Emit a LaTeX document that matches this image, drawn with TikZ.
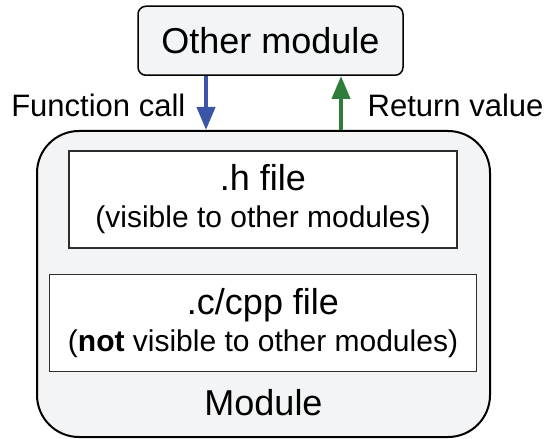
\documentclass[tikz,border=0pt]{standalone}
\usepackage{fontspec}
\setmainfont{Liberation Sans}
\usetikzlibrary{positioning,arrows.meta}
\definecolor{boxGray}{RGB}{243,244,246}
\definecolor{callBlue}{RGB}{59,84,168}
\definecolor{returnGreen}{RGB}{46,125,58}
\definecolor{lineGray}{RGB}{45,45,45}

\begin{document}
\begin{tikzpicture}[
    x=1pt, y=1pt,
    % Styles
    modulebox/.style={
        draw=black,
        line width=1pt,
        rounded corners=21pt,
        fill=boxGray,
        minimum width=226.5pt,
        minimum height=153pt
    },
    otherbox/.style={
        draw=black,
        line width=0.75pt,
        rounded corners=4pt,
        fill=boxGray,
        font=\fontsize{18}{20}\selectfont,
        minimum width=132.5pt,
        minimum height=34.5pt
    },
    filebox/.style={
        draw=lineGray,
        line width=0.75pt,
        fill=white,
        align=center,
        font=\fontsize{15}{18.5}\selectfont,
        minimum height=48.5pt,
        inner sep=0pt
    },
    bigtext/.style={font=\fontsize{18}{20}\selectfont, inner sep=0pt},
    sidetext/.style={font=\fontsize{15.5}{18}\selectfont, text=black},
    arrow/.style={-{Triangle[width=9pt,length=11.5pt]}, line width=2pt}
]
    \useasboundingbox (0,0) rectangle (272,-219);

    % ---------------------------------------------------------
    % MODULE (outer box)
    % ---------------------------------------------------------
    \node[modulebox] (module) at (131.75,-142) {};

    % header and source file
    \node[filebox, minimum width=194pt, below=10pt of module.north, xshift=-0.25pt] (hfile)
        {{\fontsize{18}{18.5}\selectfont .h file}\\(visible to other modules)};
    \node[filebox, minimum width=213.5pt, below=12.5pt of hfile] (cfile)
        {{\fontsize{18}{18.5}\selectfont .c/cpp file}\\(\textbf{not} visible to other modules)};

    \node[bigtext, above=11pt of module.south] (modname) {Module};

    % ---------------------------------------------------------
    % OTHER MODULE (top)
    % ---------------------------------------------------------
    \node[otherbox, above=27pt of module.north, xshift=3.5pt] (othermod) {Other module};

    % ---------------------------------------------------------
    % CONNECTIONS
    % ---------------------------------------------------------
    \coordinate (callStart) at ([xshift=-32.25pt]othermod.south);
    \coordinate (callEnd) at (callStart |- module.north);
    \coordinate (retEnd) at ([xshift=35.25pt]othermod.south);
    \coordinate (retStart) at (retEnd |- module.north);

    \draw[arrow, callBlue] (callStart) -- (callEnd)
        node[midway, left=6pt, sidetext, yshift=-1pt] {Function call};
    \draw[arrow, returnGreen] (retStart) -- (retEnd)
        node[midway, right=9pt, sidetext, yshift=-1pt] {Return value};

\end{tikzpicture}
\end{document}
